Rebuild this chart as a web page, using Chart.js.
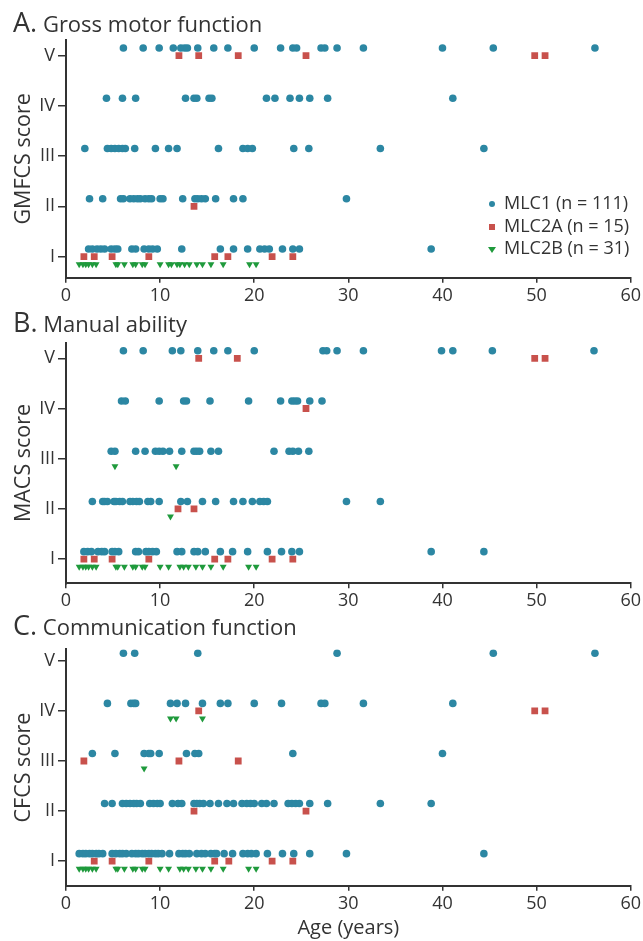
<!DOCTYPE html>
<html>
<head>
<meta charset="utf-8">
<title>Age by functional score</title>
<script src="https://cdn.jsdelivr.net/npm/chart.js@4.4.1/dist/chart.umd.min.js"></script>
<style>
  body { margin: 0; background: #fff; font-family: "Open Sans", sans-serif; color: #333; }
  #page { position: relative; width: 643px; height: 941px; overflow: hidden; }
  canvas { position: absolute; left: 0; }
  .title { position: absolute; left: 13px; font-size: 27px; line-height: 1; white-space: nowrap; }
  .title span { font-size: 22px; }
  .legend { position: absolute; left: 488px; font-size: 18px; line-height: 1; }
  .legend div { position: absolute; left: 0; white-space: nowrap; height: 22px; }
  .legend i { position: absolute; display: block; }
  .legend em { position: absolute; left: 16px; top: 0; font-style: normal; }
</style>
</head>
<body>
<div id="page">
  <canvas id="chartA" width="643" height="310" style="top:0px"></canvas>
  <canvas id="chartB" width="643" height="310" style="top:300px"></canvas>
  <canvas id="chartC" width="643" height="341" style="top:600px"></canvas>
  <div class="title" style="top:8px">A.<span> Gross motor function</span></div>
  <div class="title" style="top:308px">B.<span> Manual ability</span></div>
  <div class="title" style="top:611px">C.<span> Communication function</span></div>
  <div class="legend" style="top:193px">
    <div style="top:0px"><i style="left:1px;top:8px;width:6px;height:6px;border-radius:50%;background:#2c87a3"></i><em>MLC1 (n = 111)</em></div>
    <div style="top:23px"><i style="left:1px;top:8px;width:6px;height:6px;background:#c8514c"></i><em>MLC2A (n = 15)</em></div>
    <div style="top:45px"><i style="left:0px;top:9px;width:0;height:0;border-left:4px solid transparent;border-right:4px solid transparent;border-top:6px solid #1f9a3c"></i><em>MLC2B (n = 31)</em></div>
  </div>
</div>
<script>
// score levels and labels (index 0 = I ... 4 = V)
const scoreLevels = [1, 2, 3, 4, 5];
const scoreLabels = ['I', 'II', 'III', 'IV', 'V'];
const ageTicks = [0, 10, 20, 30, 40, 50, 60];

// ages (years) per score level, [I, II, III, IV, V]
const gmfcsMlc1 = [
  [2.4, 2.8, 3.3, 3.7, 4.1, 4.8, 5.2, 5.5, 7.0, 7.4, 8.3, 8.8, 9.2, 9.7, 12.3, 16.4, 17.8, 19.3, 20.6, 21.1, 21.6, 23.0, 24.1, 24.8, 38.8],
  [2.5, 3.9, 5.8, 6.1, 6.8, 7.2, 7.6, 7.9, 8.4, 8.8, 9.1, 10.0, 10.3, 12.4, 13.7, 14.0, 14.4, 14.8, 15.9, 17.8, 18.8, 29.8],
  [2.0, 4.4, 4.8, 5.2, 5.6, 6.0, 6.3, 7.3, 9.5, 10.9, 11.8, 16.2, 18.8, 19.3, 19.8, 24.2, 25.8, 33.4, 44.4],
  [4.3, 6.0, 7.4, 12.7, 13.6, 13.9, 15.2, 15.5, 21.3, 22.2, 23.8, 24.8, 25.9, 27.8, 41.1],
  [6.1, 8.2, 9.9, 11.4, 12.2, 12.6, 12.9, 14.0, 15.7, 17.2, 20.0, 22.8, 24.1, 24.5, 27.1, 27.5, 28.8, 31.6, 40.0, 45.4, 56.2]
];
const gmfcsMlc2a = [
  [1.9, 3.0, 4.9, 8.8, 15.8, 17.2, 21.9, 24.1],
  [13.6],
  [],
  [],
  [12.0, 14.1, 18.3, 25.5, 49.8, 50.9]
];
const gmfcsMlc2b = [
  [1.4, 1.8, 2.1, 2.4, 2.8, 3.2, 5.3, 5.5, 6.2, 7.1, 7.4, 8.1, 8.4, 10.0, 10.9, 11.2, 11.8, 12.1, 12.6, 13.1, 13.9, 14.5, 15.4, 16.7, 19.5, 20.2],
  [], [], [], []
];

const macsMlc1 = [
  [1.9, 2.3, 2.7, 3.4, 3.8, 4.1, 4.9, 5.2, 5.6, 7.4, 7.7, 8.5, 8.8, 9.2, 9.6, 11.8, 12.3, 13.6, 14.0, 14.8, 16.4, 17.7, 19.3, 21.4, 22.9, 24.0, 24.8, 38.8, 44.4],
  [2.8, 3.9, 4.1, 4.4, 5.1, 5.3, 5.7, 6.0, 6.8, 7.1, 7.5, 7.8, 8.7, 9.0, 9.9, 12.2, 12.9, 14.5, 15.9, 17.8, 18.8, 19.8, 20.6, 21.0, 21.4, 29.8, 33.4],
  [4.8, 5.2, 7.4, 8.4, 9.5, 9.9, 10.3, 11.0, 12.3, 13.6, 13.9, 14.2, 15.4, 16.2, 22.1, 23.7, 24.1, 24.7, 25.8],
  [5.9, 6.3, 9.9, 12.5, 12.8, 15.3, 19.4, 22.8, 24.0, 24.3, 24.6, 25.9, 27.2],
  [6.1, 8.2, 11.3, 12.2, 14.0, 15.7, 17.2, 20.0, 27.3, 27.7, 28.8, 31.6, 39.9, 41.1, 45.3, 56.1]
];
const macsMlc2a = [
  [1.9, 3.0, 4.9, 8.8, 15.8, 17.2, 21.9, 24.1],
  [11.9, 13.6],
  [],
  [25.5],
  [14.1, 18.2, 49.8, 50.9]
];
const macsMlc2b = [
  [1.4, 1.8, 2.1, 2.4, 2.8, 3.2, 5.3, 5.5, 6.2, 7.1, 7.4, 8.1, 8.4, 10.0, 10.9, 12.1, 12.5, 13.0, 13.8, 14.5, 15.4, 16.7, 19.4, 20.2],
  [11.1],
  [5.2, 11.7],
  [], []
];

const cfcsMlc1 = [
  [1.4, 1.8, 2.1, 2.5, 2.8, 3.2, 3.5, 3.9, 4.9, 5.3, 5.7, 6.0, 6.4, 7.0, 7.4, 7.7, 8.1, 8.4, 8.8, 9.1, 9.5, 9.8, 10.2, 11.0, 12.0, 12.4, 12.7, 13.1, 13.9, 14.4, 14.8, 15.4, 15.8, 16.0, 16.8, 17.7, 18.8, 19.3, 19.7, 20.2, 21.4, 23.0, 24.2, 25.9, 29.8, 44.4],
  [4.1, 4.9, 6.0, 6.4, 6.8, 7.2, 7.5, 7.9, 8.9, 9.3, 9.7, 10.0, 11.3, 11.9, 12.3, 13.6, 13.9, 14.2, 14.6, 15.3, 16.2, 17.1, 17.8, 18.7, 19.2, 19.6, 20.0, 20.8, 21.3, 22.1, 23.6, 24.0, 24.4, 24.8, 25.9, 27.8, 33.4, 38.8],
  [2.8, 5.2, 8.3, 8.8, 9.0, 9.9, 12.8, 13.7, 14.1, 24.1, 40.0],
  [4.4, 6.9, 7.2, 7.4, 11.1, 11.8, 12.7, 14.5, 16.4, 17.2, 20.0, 22.9, 27.1, 27.5, 31.6, 41.1],
  [6.1, 7.3, 14.0, 28.8, 45.4, 56.2]
];
const cfcsMlc2a = [
  [3.0, 4.9, 8.8, 15.8, 17.3, 21.9, 24.1],
  [13.6, 25.5],
  [1.9, 12.0, 18.3],
  [14.1, 49.8, 50.9],
  []
];
const cfcsMlc2b = [
  [1.4, 1.8, 2.1, 2.4, 2.8, 3.2, 5.3, 5.5, 6.2, 7.1, 7.4, 8.1, 8.4, 10.0, 10.9, 12.1, 12.5, 13.0, 13.8, 14.5, 15.4, 16.7, 19.4, 20.2],
  [],
  [8.3],
  [11.1, 11.7, 14.5],
  []
];

const TEAL = '#2c87a3', RED = '#c8514c', GREEN = '#1f9a3c', INK = '#333';

function toPoints(rows, shift) {
  const pts = [];
  rows.forEach((ages, i) => {
    ages.forEach(a => pts.push({ x: a, y: scoreLevels[i] + shift }));
  });
  return pts;
}

function makeChart(id, groups, yTitle, yMin, yMax, padTop, xHeight, showXTitle) {
  const ctx = document.getElementById(id);
  return new Chart(ctx, {
    type: 'scatter',
    data: {
      datasets: [
        { label: 'MLC1', data: toPoints(groups[0], 0.15), pointStyle: 'circle', pointRadius: 3.8,
          backgroundColor: TEAL, borderWidth: 0 },
        { label: 'MLC2A', data: toPoints(groups[1], 0), pointStyle: 'rect', pointRadius: 4.8,
          backgroundColor: RED, borderWidth: 0 },
        { label: 'MLC2B', data: toPoints(groups[2], -0.15), pointStyle: 'triangle', pointRadius: 4,
          rotation: 180, backgroundColor: GREEN, borderWidth: 0 }
      ]
    },
    options: {
      responsive: false,
      animation: false,
      devicePixelRatio: 1,
      layout: { padding: { top: padTop, right: 11, left: 0, bottom: 0 } },
      plugins: { legend: { display: false }, tooltip: { enabled: false } },
      scales: {
        x: {
          type: 'linear', min: 0, max: 60,
          afterBuildTicks: s => { s.ticks = ageTicks.map(v => ({ value: v })); },
          afterFit: s => { s.height = xHeight; },
          grid: { drawOnChartArea: false, drawTicks: true, tickLength: 5, color: INK, lineWidth: 1.5 },
          border: { display: true, color: INK, width: 2 },
          ticks: { color: INK, padding: 2, font: { family: 'Open Sans', size: 18 }, maxRotation: 0 },
          title: { display: showXTitle, text: 'Age (years)', color: INK,
                   font: { family: 'Open Sans', size: 20 }, padding: { top: 0, bottom: 1 } }
        },
        y: {
          type: 'linear', min: yMin, max: yMax,
          afterBuildTicks: s => { s.ticks = scoreLevels.map(v => ({ value: v })); },
          afterFit: s => { s.width = 66; },
          grid: { drawOnChartArea: false, drawTicks: true, tickLength: 8, color: INK, lineWidth: 1.5 },
          border: { display: true, color: INK, width: 2 },
          ticks: { color: INK, padding: 3, font: { family: 'Open Sans', size: 18 },
                   callback: v => scoreLabels[v - 1] },
          title: { display: true, text: yTitle, color: INK,
                   font: { family: 'Open Sans', size: 21.5 }, padding: { top: 11, bottom: 0 } }
        }
      }
    }
  });
}

makeChart('chartA', [gmfcsMlc1, gmfcsMlc2a, gmfcsMlc2b], 'GMFCS score', 0.58, 5.31, 40, 32.3, false);
makeChart('chartB', [macsMlc1, macsMlc2a, macsMlc2b], 'MACS score', 0.52, 5.31, 42.7, 26.7, false);
makeChart('chartC', [cfcsMlc1, cfcsMlc2a, cfcsMlc2b], 'CFCS score', 0.51, 5.23, 49.3, 55.3, true);
</script>
</body>
</html>
